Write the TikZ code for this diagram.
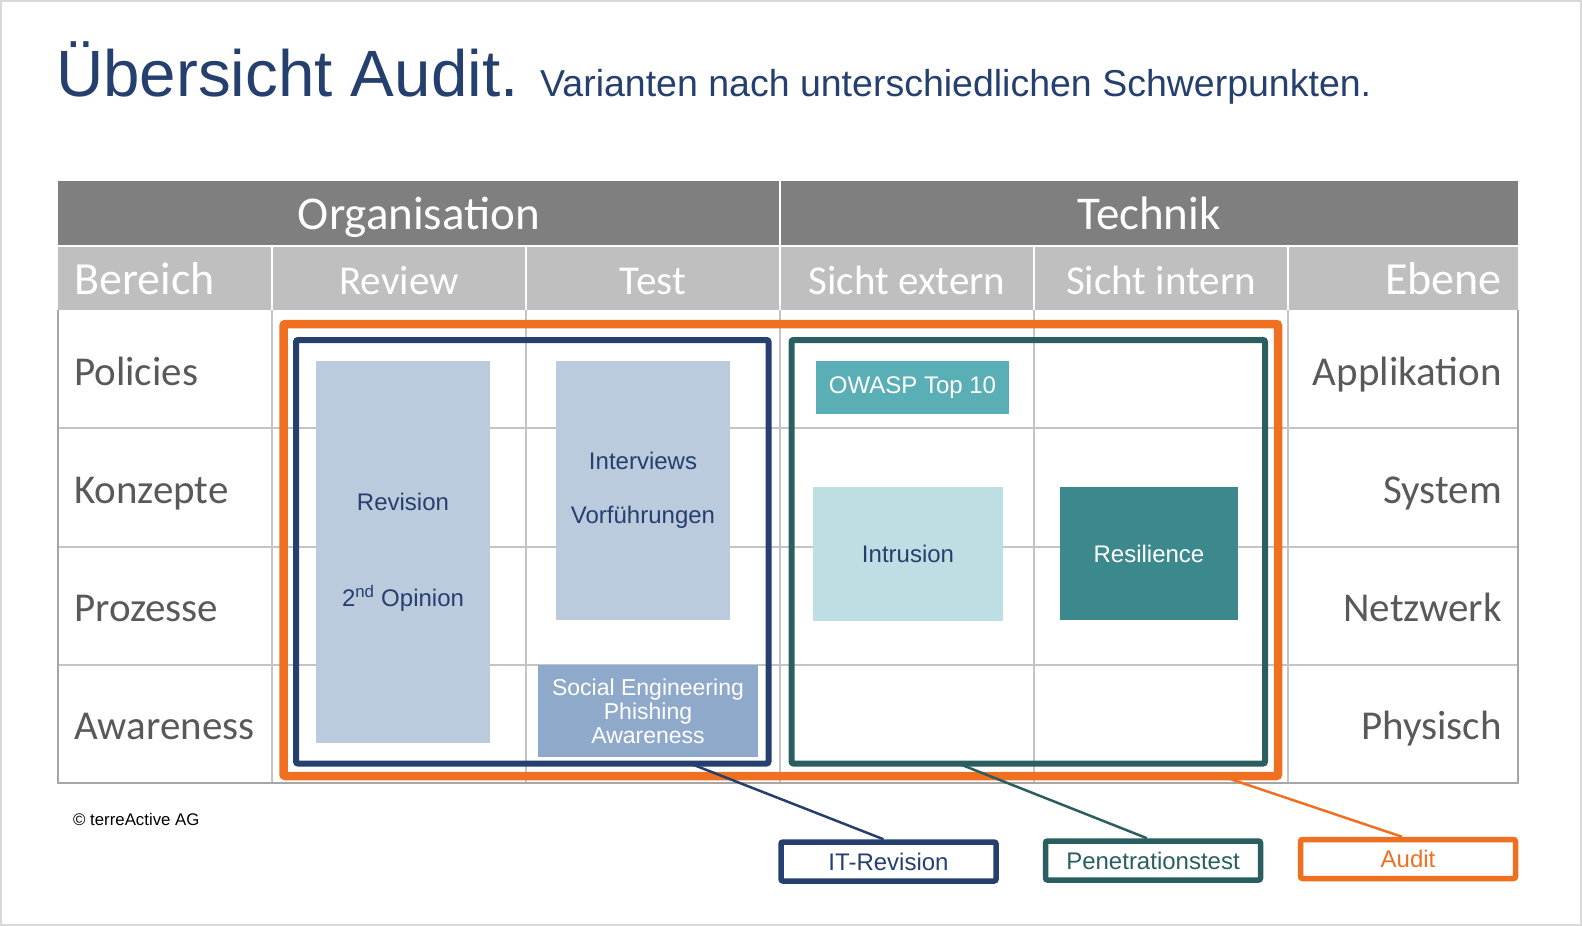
\documentclass[tikz,border=0pt]{standalone}
\usepackage{fontspec}
\setmainfont{Liberation Sans}
\newfontfamily\tabfont{Carlito}
\usepackage{tikz}
\usetikzlibrary{positioning,calc}
\definecolor{TitleBlue}{RGB}{37,63,110}
\definecolor{AuditOrange}{RGB}{240,112,34}
\definecolor{PenTeal}{RGB}{43,94,96}
\definecolor{HeadDark}{RGB}{127,127,127}
\definecolor{HeadLight}{RGB}{191,191,191}
\definecolor{GridGray}{RGB}{196,196,196}
\definecolor{BorderGray}{RGB}{166,166,166}
\definecolor{LabelGray}{RGB}{89,89,89}
\definecolor{PaleBlue}{RGB}{187,202,221}
\definecolor{MidBlue}{RGB}{142,169,201}
\definecolor{OwaspTeal}{RGB}{90,175,183}
\definecolor{PaleTeal}{RGB}{189,223,227}
\definecolor{DeepTeal}{RGB}{60,137,141}

\tikzset{
  headtext/.style={text=white,inner sep=0pt,font=\tabfont\fontsize{41}{44}\selectfont},
  rowtext/.style={text=LabelGray,inner sep=0pt,font=\tabfont\fontsize{41}{44}\selectfont},
  item/.style={inner sep=0pt,align=center,font=\fontsize{24}{29}\selectfont},
  frame/.style={draw,line width=6pt,rounded corners=2pt,inner sep=0pt,outer sep=0pt},
  tag/.style={draw=#1,text=#1,fill=white,line width=5.5pt,rounded corners=2pt,minimum width=215pt,minimum height=39pt,font=\fontsize{24}{24}\selectfont},
  link/.style={line width=2.5pt}
}

\begin{document}
\begin{tikzpicture}[x=1pt,y=-1pt]
\useasboundingbox (0,0) rectangle (1582,926);
\draw[gray!30, line width=2pt] (1,1) rectangle (1581,925);

\node[anchor=base west,inner sep=0pt,text=TitleBlue,font=\fontsize{65.5}{70}\selectfont] (title) at (56,96) {Übersicht Audit.};
\node[anchor=base west,inner sep=0pt,text=TitleBlue,font=\fontsize{37.5}{40}\selectfont] (subtitle) at (540,96) {Varianten nach unterschiedlichen Schwerpunkten.};

% table
\fill[HeadDark] (58,181) rectangle (1518,246);
\fill[HeadLight] (58,246) rectangle (1518,310);
\draw[white, line width=2pt] (58,246) -- (1518,246);
\draw[white, line width=2pt] (780,181) -- (780,310);
\draw[white, line width=2pt] (272,246) -- (272,310) (526,246) -- (526,310) (1034,246) -- (1034,310) (1288,246) -- (1288,310);
\draw[GridGray, line width=2pt] (58,428) -- (1518,428) (58,547) -- (1518,547) (58,665) -- (1518,665);
\draw[GridGray, line width=2pt] (272,310) -- (272,783) (526,310) -- (526,783) (780,310) -- (780,783) (1034,310) -- (1034,783) (1288,310) -- (1288,783);
\draw[BorderGray, line width=1.5pt] (58,310) -- (58,783) -- (1518,783) -- (1518,310);

\node[headtext,anchor=base,font=\tabfont\fontsize{47}{50}\selectfont] (org) at (419,229) {Organisation};
\node[headtext,anchor=base,font=\tabfont\fontsize{47}{50}\selectfont] (tech) at (1149,229) {Technik};
\node[headtext,anchor=base west,font=\tabfont\fontsize{46}{50}\selectfont] (bereich) at (74,294) {Bereich};
\node[headtext,anchor=base] (review) at (399,294) {Review};
\node[headtext,anchor=base] (test) at (653,294) {Test};
\node[headtext,anchor=base] (extern) at (907,294) {Sicht extern};
\node[headtext,anchor=base] (intern) at (1161,294) {Sicht intern};
\node[headtext,anchor=base east,font=\tabfont\fontsize{46}{50}\selectfont] (ebene) at (1502,294) {Ebene};

\node[rowtext,anchor=base west] (policies) at (74,385) {Policies};
\node[rowtext,anchor=base west] (konzepte) at (74,503) {Konzepte};
\node[rowtext,anchor=base west] (prozesse) at (74,621) {Prozesse};
\node[rowtext,anchor=base west] (awareness) at (74,739) {Awareness};
\node[rowtext,anchor=base east] (applikation) at (1502,385) {Applikation};
\node[rowtext,anchor=base east] (system) at (1502,503) {System};
\node[rowtext,anchor=base east] (netzwerk) at (1502,621) {Netzwerk};
\node[rowtext,anchor=base east] (physisch) at (1502,739) {Physisch};

% variants
\node[item,fill=PaleBlue,text=TitleBlue,minimum width=174pt,minimum height=382pt] (revision) at (403,552) {Revision\\[67pt]2\textsuperscript{nd} Opinion};
\node[item,fill=PaleBlue,text=TitleBlue,minimum width=174pt,minimum height=259pt] (interviews) at (643,490.5) {Interviews\\[25pt]Vorführungen};
\node[item,fill=MidBlue,text=white,minimum width=220pt,minimum height=92pt,font=\fontsize{23}{24}\selectfont] (social) at (648,711) {Social Engineering\\Phishing\\Awareness};
\node[item,fill=OwaspTeal,text=white,minimum width=193pt,minimum height=53pt] (owasp) at (912.5,387.5) {OWASP Top 10};
\node[item,fill=PaleTeal,text=TitleBlue,minimum width=190pt,minimum height=134pt] (intrusion) at (908,554) {Intrusion};
\node[item,fill=DeepTeal,text=white,minimum width=178pt,minimum height=133pt] (resilience) at (1149,553.5) {Resilience};

\node[frame,AuditOrange,line width=8.5pt,minimum width=994.5pt,minimum height=452pt] (auditframe) at (780.75,550) {};
\node[frame,TitleBlue,minimum width=472.5pt,minimum height=423.5pt] (itframe) at (532.25,551.75) {};
\node[frame,PenTeal,minimum width=473.5pt,minimum height=423.5pt] (penframe) at (1028.25,551.75) {};

\node[anchor=base west,inner sep=0pt,font=\fontsize{16.8}{18}\selectfont] (copy) at (73,825) {© terreActive AG};

\node[tag=TitleBlue] (itrev) at (888.5,861.5) {IT-Revision};
\node[tag=PenTeal] (pentest) at (1153,860.5) {Penetrationstest};
\node[tag=AuditOrange] (audit) at (1408,859) {Audit};

\draw[link,TitleBlue] ($(itframe.south west)!0.834!(itframe.south east)$) -- ($(itrev.north)+(-5,0)$);
\draw[link,PenTeal] ($(penframe.south west)!0.352!(penframe.south east)$) -- ($(pentest.north)+(-6,0)$);
\draw[link,AuditOrange] ($(auditframe.south west)!0.943!(auditframe.south east)$) -- ($(audit.north)+(-6,0)$);
\end{tikzpicture}
\end{document}
